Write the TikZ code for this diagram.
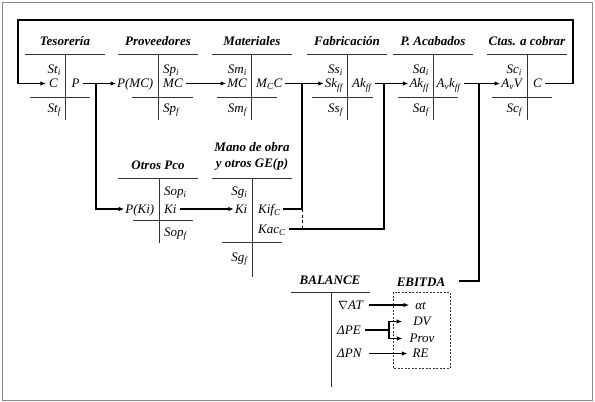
\documentclass[tikz,border=0pt]{standalone}
\usepackage{fontspec}
\setmainfont{Liberation Serif}
\usetikzlibrary{arrows.meta}
\newcommand\sbs[1]{\textsubscript{#1}}
\begin{document}
\begin{tikzpicture}[x=1pt,y=-1pt,
  lab/.style={font=\fontsize{13}{15}\selectfont\itshape, inner sep=0pt, text height=8.6pt, text depth=0pt},
  ttl/.style={lab, font=\fontsize{13}{15}\selectfont\bfseries\itshape},
  tline/.style={line width=1pt, draw=black!80},
  con/.style={line width=1.2pt, draw=black},
  arr/.style={con, -{Latex[length=5.5pt,width=4.5pt]}, shorten <=3pt, shorten >=1pt},
]
\useasboundingbox (0,0) rectangle (595,402);
\draw[black!45, line width=0.8pt] (2,2) rectangle (592.5,400);

% ---------- titles ----------
\node[ttl] (tT) at (65,41.5) {Tesorería};
\node[ttl] (pT) at (158,41.5) {Proveedores};
\node[ttl] (mT) at (252,41.5) {Materiales};
\node[ttl] (fT) at (347,41.5) {Fabricación};
\node[ttl] (aT) at (433,41.5) {P. Acabados};
\node[ttl] (cT) at (527,41.5) {Ctas. a cobrar};
\node[ttl] (oT) at (158,165.5) {Otros Pco};
\node[ttl] (gT1) at (252,147) {Mano de obra};
\node[ttl] (gT2) at (252,163) {y otros GE(p)};
\node[ttl] (bT) at (330,280) {BALANCE};
\node[ttl] (eT) at (421,282) {EBITDA};

% ---------- T accounts ----------
\draw[tline] (25,54) -- (105,54) (65.5,54) -- (65.5,120) (30,97) -- (90,97);
\draw[tline] (118,54) -- (198,54) (158,54) -- (158,120) (132,97) -- (193,97);
\draw[tline] (212,54) -- (292,54) (251.5,54) -- (251.5,120) (217,97) -- (277,97);
\draw[tline] (307,54) -- (387,54) (347,54) -- (347,120) (312,97) -- (373,97);
\draw[tline] (393,54) -- (473,54) (433,54) -- (433,120) (398,97) -- (458,97);
\draw[tline] (487,54) -- (567,54) (527,54) -- (527,120) (492,97) -- (552,97);
\draw[tline] (118,178) -- (198,178) (159,178) -- (159,243) (133,220) -- (193,220);
\draw[tline] (212,178) -- (292,178) (252,178) -- (252,277) (222,242) -- (282,242);
\draw[tline] (291,292) -- (370,292) (331,292) -- (331,387);
\draw[tline, dashed, line width=0.8pt, dash pattern=on 2pt off 1.5pt] (393,292) rectangle (450,368);

% ---------- labels ----------
% Tesoreria
\node[lab, anchor=east] (t1i) at (61,69) {St\sbs{i}};
\node[lab, anchor=east] (t1c) at (58,83.5) {C};
\node[lab, anchor=east] (t1f) at (61,108) {St\sbs{f}};
\node[lab, anchor=west] (t1p) at (71.5,83.5) {P};
% Proveedores
\node[lab, anchor=east] (p1l) at (153.5,83.5) {P(MC)};
\node[lab, anchor=west] (p1i) at (163,69) {Sp\sbs{i}};
\node[lab, anchor=west] (p1c) at (163,83.5) {MC};
\node[lab, anchor=west] (p1f) at (163,108) {Sp\sbs{f}};
% Materiales
\node[lab, anchor=east] (m1i) at (247,69) {Sm\sbs{i}};
\node[lab, anchor=east] (m1c) at (247,83.5) {MC};
\node[lab, anchor=east] (m1f) at (247,108) {Sm\sbs{f}};
\node[lab, anchor=west] (m1r) at (256,83.5) {M\sbs{C}C};
% Fabricacion
\node[lab, anchor=east] (f1i) at (343,69) {Ss\sbs{i}};
\node[lab, anchor=east] (f1c) at (343,83.5) {Sk\sbs{ff}};
\node[lab, anchor=east] (f1f) at (343,108) {Ss\sbs{f}};
\node[lab, anchor=west] (f1r) at (352,83.5) {Ak\sbs{ff}};
% P. Acabados
\node[lab, anchor=east] (a1i) at (429,69) {Sa\sbs{i}};
\node[lab, anchor=east] (a1c) at (429,83.5) {Ak\sbs{ff}};
\node[lab, anchor=east] (a1f) at (429,108) {Sa\sbs{f}};
\node[lab, anchor=west] (a1r) at (436.5,83.5) {A\sbs{v}k\sbs{ff}};
% Ctas a cobrar
\node[lab, anchor=east] (c1i) at (522,69) {Sc\sbs{i}};
\node[lab, anchor=east] (c1c) at (522,83.5) {A\sbs{v}V};
\node[lab, anchor=east] (c1f) at (522,108) {Sc\sbs{f}};
\node[lab, anchor=west] (c1r) at (533,83.5) {C};
% Otros Pco
\node[lab, anchor=east] (o1l) at (154.5,209) {P(Ki)};
\node[lab, anchor=west] (o1i) at (164,191) {Sop\sbs{i}};
\node[lab, anchor=west] (o1c) at (164,209) {Ki};
\node[lab, anchor=west] (o1f) at (164,232) {Sop\sbs{f}};
% Mano de obra
\node[lab, anchor=east] (g1i) at (247.5,191) {Sg\sbs{i}};
\node[lab, anchor=east] (g1c) at (247.5,209) {Ki};
\node[lab, anchor=east] (g1f) at (247.5,257) {Sg\sbs{f}};
\node[lab, anchor=west] (gKif) at (258,209) {Kif\sbs{C}};
\node[lab, anchor=west] (gKac) at (258,229) {Kac\sbs{C}};
% Balance
\node[lab, anchor=west] (bAT) at (338,305) {$\nabla$AT};
\node[lab, anchor=west] (bPE) at (337,330) {ΔPE};
\node[lab, anchor=west] (bPN) at (337,353.5) {ΔPN};
% EBITDA
\node[lab] (eAt) at (420.5,305) {αt};
\node[lab] (eDV) at (422,321.5) {DV};
\node[lab] (ePr) at (422,338.5) {Prov};
\node[lab] (eRE) at (420.5,353.5) {RE};

% ---------- junctions ----------
\coordinate (jTes) at (96,83.5);
\coordinate (jFab) at (302,83.5);
\coordinate (jAca) at (384,83.5);
\coordinate (jCta) at (479,83.5);
\coordinate (lR) at (573,83.5);
\coordinate (lRT) at (573,20);
\coordinate (lLT) at (18,20);
\coordinate (lL) at (18,83.5);
\coordinate (jPE) at (389,330);

% ---------- connectors ----------
\draw[arr] (t1p.east) -- (p1l.west);
\draw[arr] (p1c.east) -- (m1c.west);
\draw[arr] (m1r.east) -- (f1c.west);
\draw[arr] (f1r.east) -- (a1c.west);
\draw[arr] (a1r.east) -- (c1c.west);
\draw[arr, shorten >=3pt] (c1r.east) -- (lR) -- (lRT) -- (lLT) -- (lL) -- (t1c.west);
\draw[arr, shorten <=0pt] (jTes) |- (o1l.west);
\draw[arr] (o1c.east) -- (g1c.west);
\draw[con, shorten <=2pt] (gKif.east) -| (jFab);
\draw[con, shorten <=3pt] (gKac.east) -| (jAca);
\draw[con, dashed, line width=1pt, dash pattern=on 3pt off 2.5pt] (gKif.east -| jFab) -- (gKac.east -| jFab);
\draw[con] (jCta) |- ([xshift=14pt,yshift=1pt]eT.east);

\draw[arr, shorten <=6pt, shorten >=6pt] (bAT.east) -- (eAt.west);
\draw[con, shorten <=4pt] (bPE.east) -- (jPE);
\draw[arr, shorten <=0pt, shorten >=11pt] (jPE) |- (eDV.west);
\draw[arr, shorten <=0pt, shorten >=7pt] (jPE) |- (ePr.west);
\draw[arr, shorten <=7pt, shorten >=5pt] (bPN.east) -- (eRE.west);
\end{tikzpicture}
\end{document}
